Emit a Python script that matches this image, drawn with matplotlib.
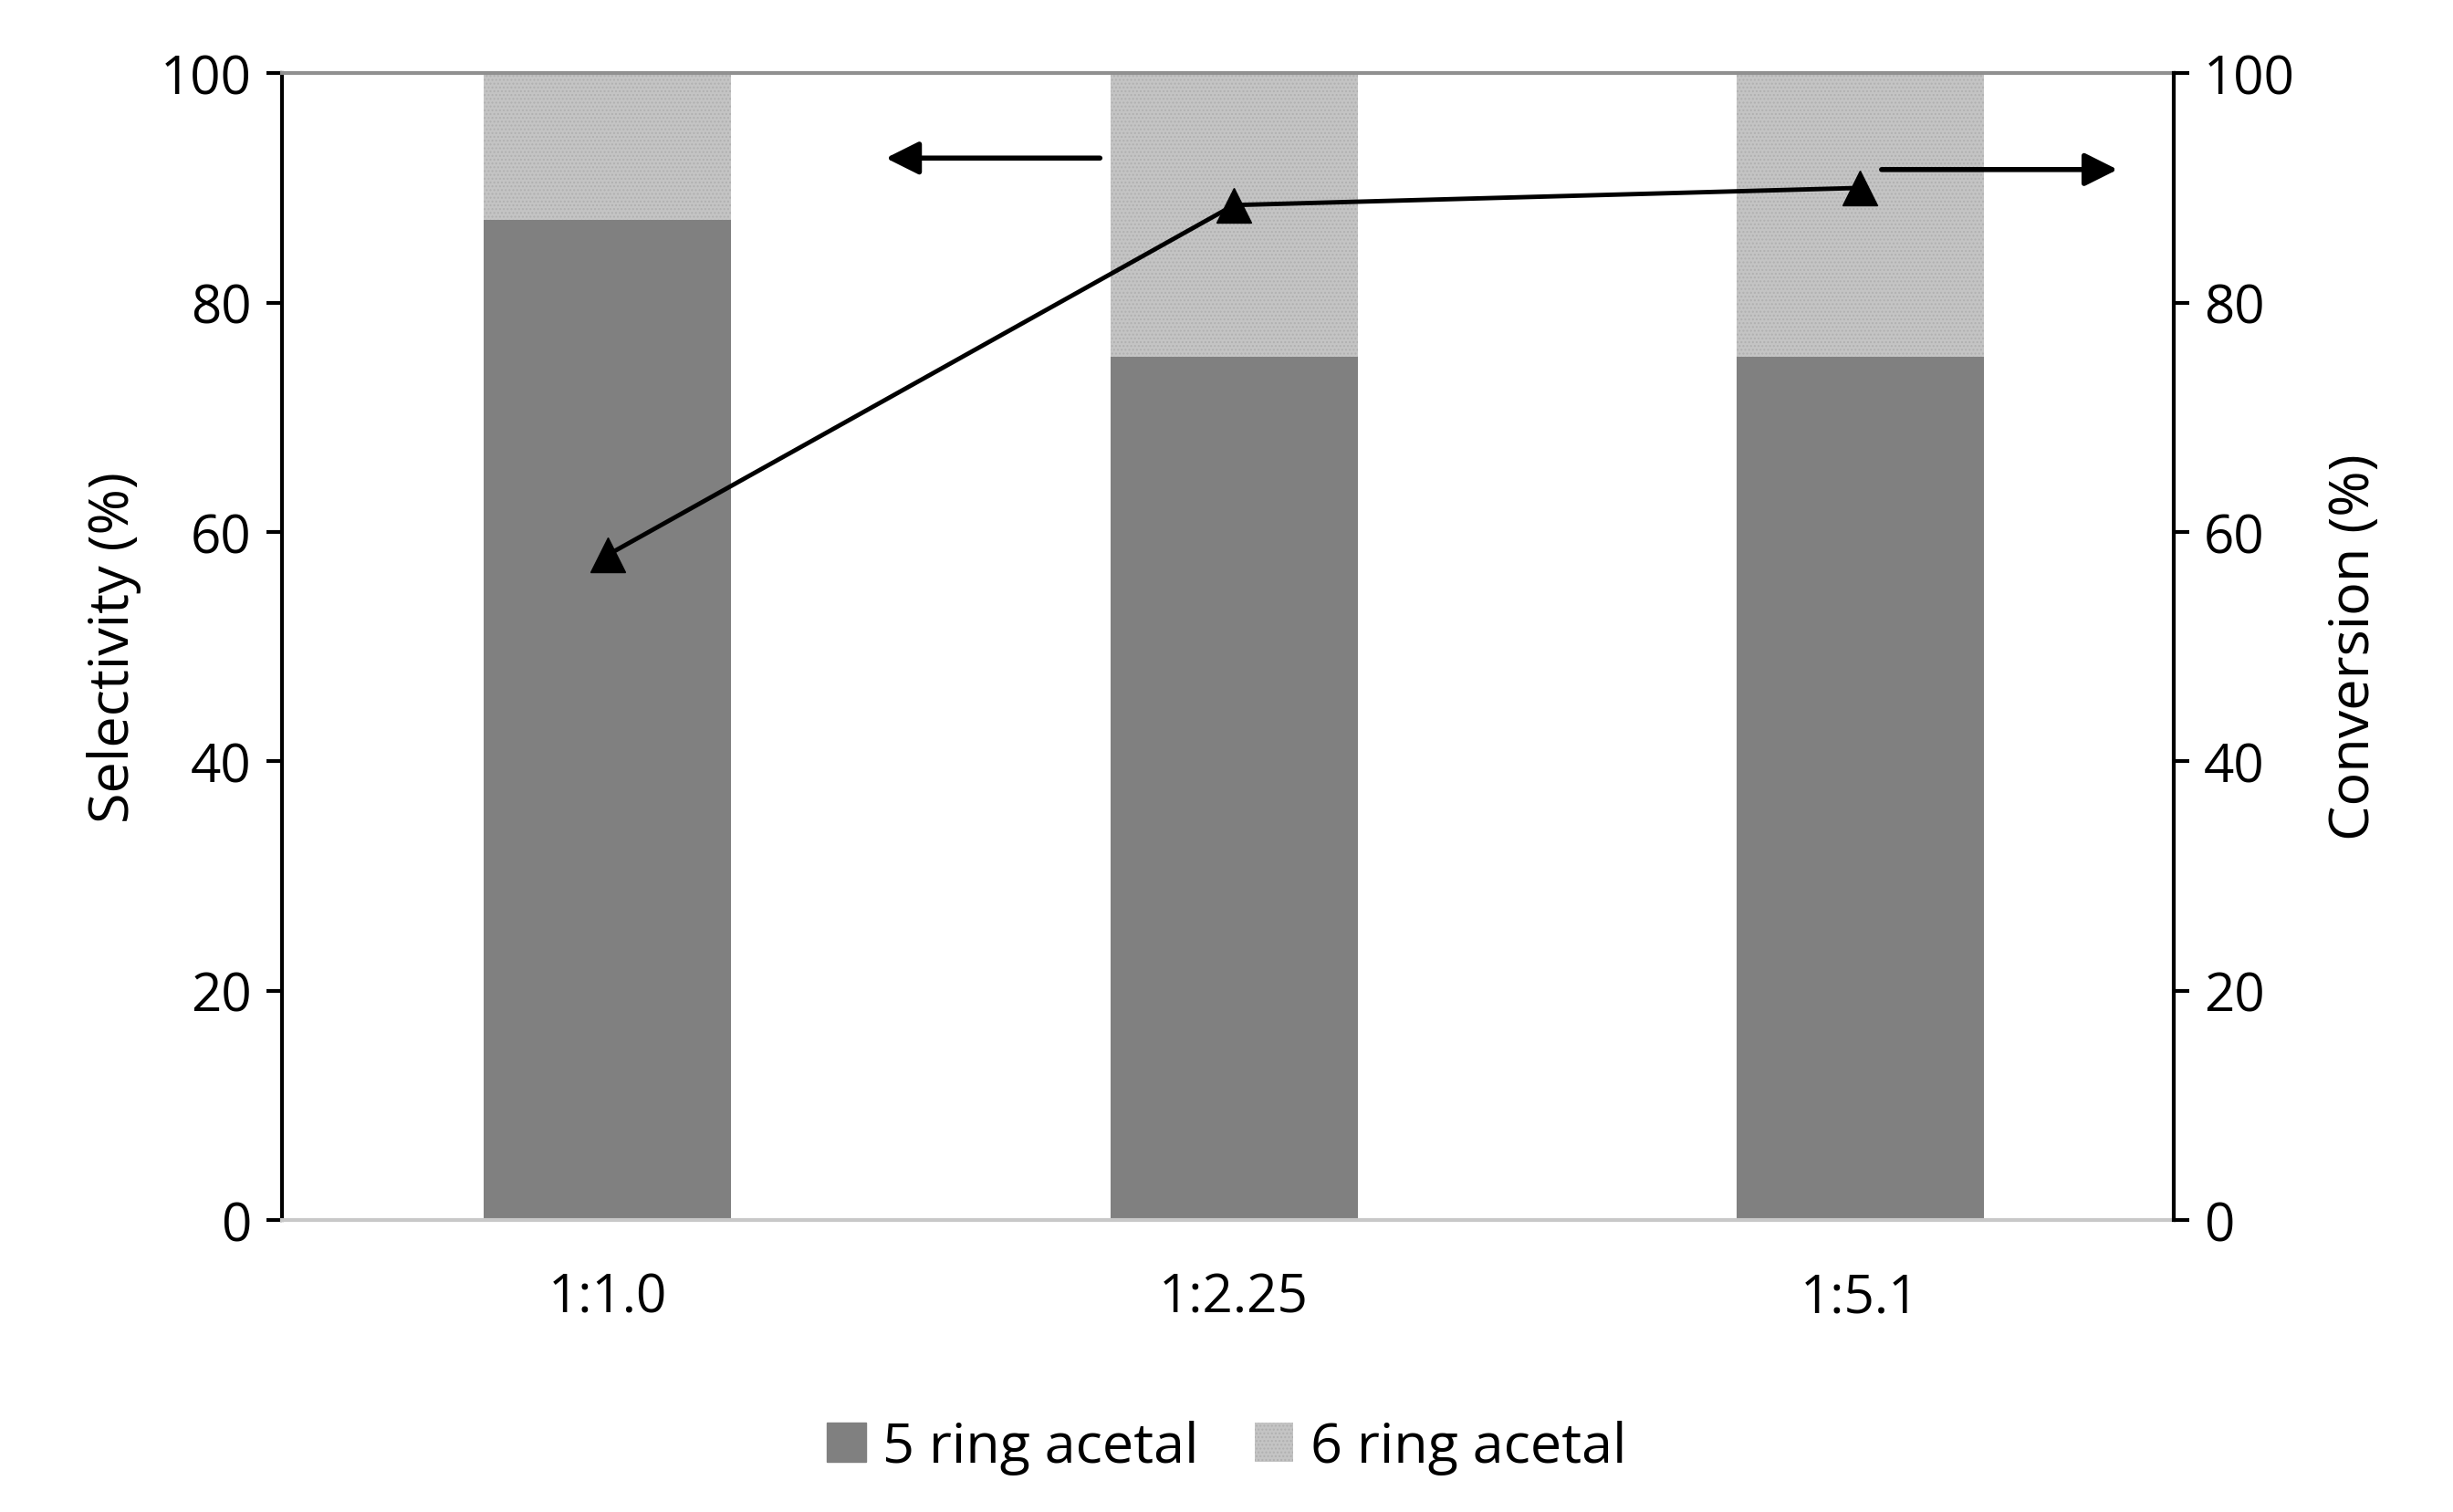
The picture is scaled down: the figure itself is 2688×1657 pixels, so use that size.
import matplotlib
matplotlib.use("Agg")
import matplotlib.pyplot as plt
import matplotlib.patches as mpatches

categories = ["1:1.0", "1:2.25", "1:5.1"]
ring5 = [87.2, 75.3, 75.3]
ring6 = [12.8, 24.7, 24.7]
conversion = [58.0, 88.5, 90.0]

DARK = "#808080"
LIGHT = "#c4c4c4"
plt.rcParams["font.family"] = ["Open Sans", "DejaVu Sans"]
FS = 42

fig = plt.figure(figsize=(26.88, 16.58), dpi=100)
ax = fig.add_axes([0.115, 0.193, 0.771, 0.758])
x = list(range(len(categories)))
ax.bar(x, ring5, width=0.395, color=DARK, label="5 ring acetal", zorder=2)
ax.bar(x, ring6, bottom=ring5, width=0.395, color=LIGHT, hatch="....",
       edgecolor="#b0b0b0", linewidth=0, label="6 ring acetal", zorder=2)
ax.set_xlim(-0.52, 2.5)
ax.set_ylim(0, 100)
ax.set_yticks(range(0, 101, 20))
ax.set_xticks(x, categories)
ax.set_ylabel("Selectivity (%)", fontsize=FS + 2, labelpad=15)
ax.tick_params(axis="y", labelsize=FS, width=3, length=12, direction="out", pad=12)
ax.tick_params(axis="x", labelsize=FS, length=0, pad=40)
ax.spines["left"].set_linewidth(3)
ax.spines["top"].set_color("#909090")
ax.spines["top"].set_linewidth(3)
ax.spines["bottom"].set_color("#c8c8c8")
ax.spines["bottom"].set_linewidth(3)
ax.spines["right"].set_visible(False)

ax2 = ax.twinx()
ax2.plot(x, conversion, color="black", linewidth=3.5, marker="^",
         markersize=28, zorder=3)
ax2.set_ylim(0, 100)
ax2.set_yticks(range(0, 101, 20))
ax2.set_ylabel("Conversion (%)", fontsize=FS + 2, labelpad=25)
ax2.tick_params(axis="y", labelsize=FS, width=3, length=12, direction="out", pad=12)
ax2.spines["right"].set_linewidth(3)
for s in ["top", "bottom", "left"]:
    ax2.spines[s].set_visible(False)

ax2.annotate("", xy=(0.44, 92.6), xytext=(0.79, 92.6),
             arrowprops=dict(arrowstyle="-|>", color="black", lw=4, mutation_scale=55))
ax2.annotate("", xy=(2.415, 91.6), xytext=(2.03, 91.6),
             arrowprops=dict(arrowstyle="-|>", color="black", lw=4, mutation_scale=55))

handles = [mpatches.Patch(color=DARK, label="5 ring acetal"),
           mpatches.Patch(facecolor=LIGHT, hatch="....", edgecolor="#b0b0b0",
                          linewidth=0, label="6 ring acetal")]
fig.legend(handles=handles, loc="center", bbox_to_anchor=(0.5, 0.043), ncol=2,
           frameon=False, fontsize=FS + 2, handlelength=0.7, handleheight=0.7,
           columnspacing=1.0, handletextpad=0.3)

fig.savefig("out.png", dpi=100, facecolor="white")
